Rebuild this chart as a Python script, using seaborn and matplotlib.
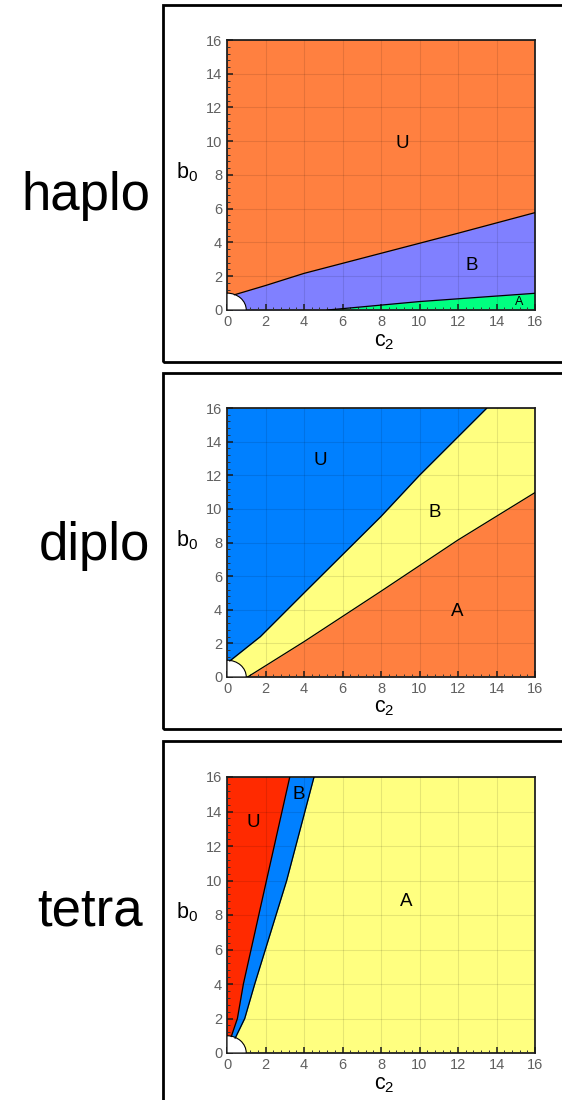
import numpy as np
import pandas as pd
import matplotlib
matplotlib.use("Agg")
import matplotlib.pyplot as plt
from matplotlib.patches import Wedge, Rectangle
from matplotlib.ticker import MultipleLocator
import seaborn as sns

# ---------------- data: stability boundaries in the (c2, b0) plane ----------------
# haplo
haplo_ub_c2 = [0.38, 2.0, 4.0, 8.0, 12.0, 16.0]
haplo_ub_b0 = [0.90, 1.45, 2.17, 3.36, 4.55, 5.77]
haplo_ba_c2 = [5.2, 6.0, 10.0, 16.0]
haplo_ba_b0 = [0.0, 0.08, 0.50, 0.99]

# diplo
diplo_ub_c2 = [0.14, 1.73, 4.0, 8.0, 10.0, 13.5]
diplo_ub_b0 = [0.95, 2.40, 5.0, 9.55, 12.0, 16.0]
diplo_ba_c2 = [1.07, 4.0, 8.0, 12.0, 16.0]
diplo_ba_b0 = [0.0, 2.1, 5.1, 8.15, 10.97]

# tetra
tetra_ub_c2 = [0.22, 0.54, 0.85, 2.05, 3.26]
tetra_ub_b0 = [0.95, 2.0, 4.0, 10.0, 16.0]
tetra_ba_c2 = [0.42, 0.92, 1.44, 3.10, 4.52]
tetra_ba_b0 = [0.85, 2.0, 4.0, 10.0, 16.0]

panel_names = ["haplo", "diplo", "tetra"]
region_names = ["U", "B", "A"]

# label anchor points (c2, b0) per panel, order U, B, A
haplo_lbl_c2 = [9.1, 12.7, 15.2]
haplo_lbl_b0 = [9.85, 2.63, 0.45]
diplo_lbl_c2 = [4.84, 10.8, 11.97]
diplo_lbl_b0 = [12.9, 9.8, 3.88]
tetra_lbl_c2 = [1.35, 3.75, 9.3]
tetra_lbl_b0 = [13.35, 15.0, 8.76]

ticks = [0, 2, 4, 6, 8, 10, 12, 14, 16]

# ---------------- styling ----------------
sns.set_style("white")
plt.rcParams["font.family"] = ["Liberation Sans", "DejaVu Sans"]
plt.rcParams["mathtext.fontset"] = "custom"
plt.rcParams["mathtext.rm"] = "Liberation Sans"
plt.rcParams["mathtext.it"] = "Liberation Sans"

C_ORANGE = "#FF8040"
C_PURPLE = "#8080FF"
C_GREEN = "#00FF80"
C_BLUE = "#0080FF"
C_YELLOW = "#FFFF80"
C_RED = "#FF2A00"

fig = plt.figure(figsize=(5.62, 11.0), dpi=100)

# axes rectangles in figure fraction
ax_left = 227 / 562
ax_width = 308 / 562
ax_boxes = [
    (ax_left, 1 - 310 / 1100, ax_width, 270 / 1100),
    (ax_left, 1 - 677 / 1100, ax_width, 269 / 1100),
    (ax_left, 1 - 1053 / 1100, ax_width, 276 / 1100),
]

# outer frames around each panel
frames = [(5, 362), (373, 729), (741, 1112)]
for top, bot in frames:
    fig.patches.append(Rectangle((163 / 562, 1 - bot / 1100), 1.0, (bot - top) / 1100,
                                 transform=fig.transFigure, fill=False,
                                 edgecolor="black", linewidth=2.0, zorder=0))

# big panel names
name_pos = [(150, 210), (150, 560), (143, 925)]
for name, (px, py) in zip(panel_names, name_pos):
    fig.text(px / 562, 1 - py / 1100, name, ha="right", va="baseline",
             fontsize=38, color="black")


def boundary(ax, xs, ys):
    df = pd.DataFrame({"c2": xs, "b0": ys})
    sns.lineplot(data=df, x="c2", y="b0", ax=ax, color="black", linewidth=0.9,
                 sort=False, estimator=None, zorder=4)


def style_axes(ax):
    ax.set_xlim(0, 16)
    ax.set_ylim(0, 16)
    ax.set_xticks(ticks)
    ax.set_yticks(ticks)
    ax.xaxis.set_minor_locator(MultipleLocator(0.4))
    ax.yaxis.set_minor_locator(MultipleLocator(0.4))
    ax.tick_params(axis="both", which="major", direction="in", length=4.5, width=1.1,
                   color="#1a1a1a", labelsize=10.5, labelcolor="#606060", pad=3.5,
                   bottom=True, left=True, top=False, right=False)
    ax.tick_params(axis="both", which="minor", direction="in", length=2.2, width=0.7,
                   color="#333333", bottom=True, left=True, top=False, right=False)
    ax.set_axisbelow(False)
    ax.grid(True, which="major", color="black", alpha=0.1, linestyle="-",
            linewidth=0.8)
    ax.grid(False, which="minor")
    for s in ax.spines.values():
        s.set_visible(True)
        s.set_color("#222222")
        s.set_linewidth(1.3)
    ax.set_xlabel(r"$\mathregular{c_2}$", fontsize=15.5, color="black", va="center")
    ax.set_ylabel(r"$\mathregular{b_0}$", fontsize=15.5, color="black", rotation=0,
                  ha="center", va="center")
    ax.xaxis.set_label_coords(0.51, -0.115)
    ax.yaxis.set_label_coords(-0.13, 0.51)
    # quarter circle excluded near the origin
    ax.add_patch(Wedge((0, 0), 1.0, 0, 90, facecolor="white", edgecolor="black",
                       linewidth=0.8, zorder=3))


def labels(ax, xs, ys, sizes):
    for t, x, y, s in zip(region_names, xs, ys, sizes):
        ax.text(x, y, t, ha="center", va="center", fontsize=s, color="black", zorder=6)


axes = [fig.add_axes(b) for b in ax_boxes]

# ---- haplo ----
ax = axes[0]
ax.set_facecolor(C_ORANGE)
ax.fill_between(haplo_ub_c2, 0, haplo_ub_b0, color=C_PURPLE, linewidth=0, zorder=1)
ax.fill_between(haplo_ba_c2, 0, haplo_ba_b0, color=C_GREEN, linewidth=0, zorder=1)
boundary(ax, haplo_ub_c2, haplo_ub_b0)
boundary(ax, haplo_ba_c2, haplo_ba_b0)
style_axes(ax)
labels(ax, haplo_lbl_c2, haplo_lbl_b0, [13.5, 13.5, 9])

# ---- diplo ----
ax = axes[1]
ax.set_facecolor(C_YELLOW)
ax.fill_betweenx(diplo_ub_b0, 0, diplo_ub_c2, color=C_BLUE, linewidth=0, zorder=1)
ax.fill_between(diplo_ba_c2, 0, diplo_ba_b0, color=C_ORANGE, linewidth=0, zorder=1)
boundary(ax, diplo_ub_c2, diplo_ub_b0)
boundary(ax, diplo_ba_c2, diplo_ba_b0)
style_axes(ax)
labels(ax, diplo_lbl_c2, diplo_lbl_b0, [13.5, 13.5, 13.5])

# ---- tetra ----
ax = axes[2]
ax.set_facecolor(C_YELLOW)
ax.fill_betweenx(tetra_ba_b0, 0, tetra_ba_c2, color=C_BLUE, linewidth=0, zorder=1)
ax.fill_betweenx(tetra_ub_b0, 0, tetra_ub_c2, color=C_RED, linewidth=0, zorder=1.5)
boundary(ax, tetra_ub_c2, tetra_ub_b0)
boundary(ax, tetra_ba_c2, tetra_ba_b0)
style_axes(ax)
labels(ax, tetra_lbl_c2, tetra_lbl_b0, [13.5, 13.5, 13.5])

fig.savefig("out.png", dpi=100)
